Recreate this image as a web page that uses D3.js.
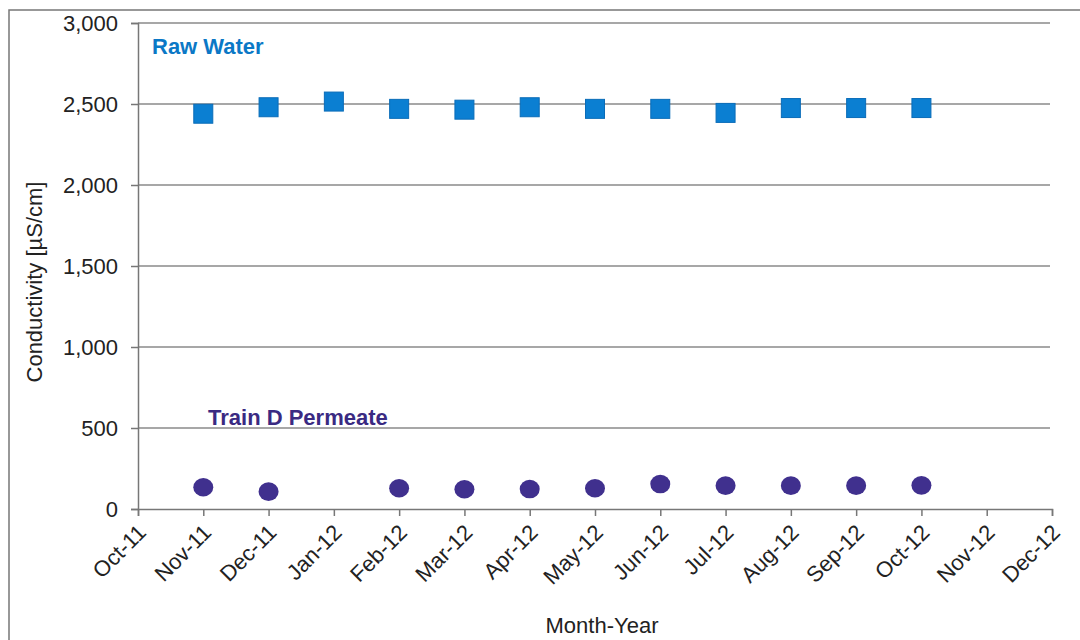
<!DOCTYPE html>
<html><head><meta charset="utf-8">
<script src="https://cdn.jsdelivr.net/npm/d3@7"></script>
<style>body{margin:0;background:#fff;}svg{display:block;font-family:"Liberation Sans",Arial,sans-serif;}</style>
</head><body>
<svg id="c" width="1080" height="640"></svg>
<script>
const months = ["Oct-11","Nov-11","Dec-11","Jan-12","Feb-12","Mar-12","Apr-12","May-12","Jun-12","Jul-12","Aug-12","Sep-12","Oct-12","Nov-12","Dec-12"];
const rawMonths = ["Nov-11","Dec-11","Jan-12","Feb-12","Mar-12","Apr-12","May-12","Jun-12","Jul-12","Aug-12","Sep-12","Oct-12"];
const rawWater = [2440,2480,2515,2470,2465,2480,2470,2470,2445,2475,2475,2475];
const permMonths = ["Nov-11","Dec-11","Feb-12","Mar-12","Apr-12","May-12","Jun-12","Jul-12","Aug-12","Sep-12","Oct-12"];
const permeate = [134,107,128,122,123,128,154,144,144,144,146];
const yTicks = [0,500,1000,1500,2000,2500,3000];

const svg = d3.select("#c");
const L = 138, R = 1052, T = 23, B = 509;
const x = d3.scalePoint().domain(months).range([L, R]);
const y = d3.scaleLinear().domain([0,3000]).range([B, T]);

// outer frame (left + top)
svg.append("path").attr("d","M9,640 L9,10 L1080,10").attr("fill","none").attr("stroke","#777").attr("stroke-width",1.5);

// gridlines
svg.append("g").selectAll("line").data(yTicks.filter(d=>d>0)).join("line")
  .attr("x1",L).attr("x2",R-2).attr("y1",d=>y(d)).attr("y2",d=>y(d))
  .attr("stroke","#8a8a8a").attr("stroke-width",1.5);

// y axis
const ya = svg.append("g").attr("transform",`translate(${L},0)`)
  .call(d3.axisLeft(y).tickValues(yTicks).tickSize(7).tickPadding(13).tickFormat(d3.format(",")));
ya.select(".domain").attr("stroke","#777").attr("stroke-width",1.5);
ya.selectAll(".tick line").attr("stroke","#777").attr("stroke-width",1.5);
ya.selectAll("text").attr("font-size",22).attr("fill","#222").attr("font-family","Liberation Sans, Arial, sans-serif");

// x axis
const xa = svg.append("g").attr("transform",`translate(0,${B})`)
  .call(d3.axisBottom(x).tickSize(7).tickPadding(6));
xa.select(".domain").attr("stroke","#777").attr("stroke-width",1.5);
xa.selectAll(".tick line").attr("stroke","#777").attr("stroke-width",1.5);
xa.selectAll("text").attr("font-size",22).attr("fill","#222").attr("font-family","Liberation Sans, Arial, sans-serif")
  .attr("text-anchor","end").attr("dy","0.3em").attr("transform","translate(-5,11) rotate(-45)");

// axis titles
svg.append("text").attr("transform","translate(42,282) rotate(-90)").attr("text-anchor","middle")
  .attr("font-size",22).attr("fill","#222").text("Conductivity [µS/cm]");
svg.append("text").attr("x",602).attr("y",633).attr("text-anchor","middle")
  .attr("font-size",22).attr("fill","#222").text("Month-Year");

// raw water squares
const s = 19;
svg.append("g").selectAll("rect").data(rawWater).join("rect")
  .attr("x",(d,i)=>x(rawMonths[i])-s/2).attr("y",d=>y(d)-s/2)
  .attr("width",s).attr("height",s).attr("fill","#0b7fd2").attr("stroke","#0a6cb8").attr("stroke-width",1);

// permeate circles
svg.append("g").selectAll("ellipse").data(permeate).join("ellipse")
  .attr("cx",(d,i)=>x(permMonths[i])).attr("cy",d=>y(d))
  .attr("rx",10).attr("ry",9.3).attr("fill","#40308e");

// series labels
svg.append("text").attr("x",152).attr("y",54).attr("font-size",22).attr("font-weight","bold")
  .attr("fill","#0b78c6").text("Raw Water");
svg.append("text").attr("x",208).attr("y",425).attr("font-size",22).attr("font-weight","bold")
  .attr("fill","#3a2a82").text("Train D Permeate");
</script>
</body></html>
